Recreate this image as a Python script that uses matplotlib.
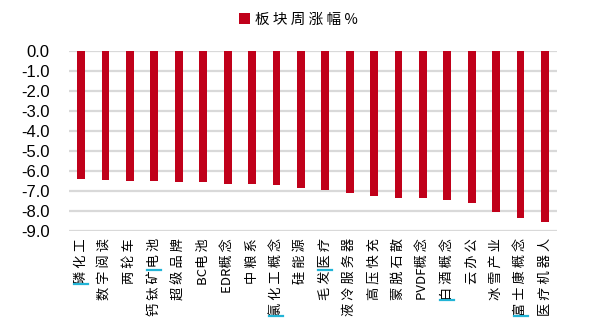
import numpy as np
import matplotlib.pyplot as plt
from matplotlib.font_manager import FontProperties
from matplotlib.lines import Line2D

plt.rcParams['font.family'] = ['Liberation Sans', 'Noto Sans CJK SC', 'DejaVu Sans']

# sector names and weekly change (%)
sectors = ['磷化工', '数字阅读', '两轮车', '钙钛矿电池', '超级品牌', 'BC电池',
           'EDR概念', '中粮系', '氯化工概念', '硅能源', '毛发医疗', '液冷服务器',
           '高压快充', '蒙脱石散', 'PVDF概念', '白酒概念', '云办公', '冰雪产业',
           '富士康概念', '医疗机器人']
weekly_change = [-6.42, -6.47, -6.48, -6.52, -6.55, -6.55, -6.66, -6.66, -6.69, -6.83,
                 -6.96, -7.08, -7.23, -7.34, -7.34, -7.43, -7.58, -8.03, -8.33, -8.55]
yticks = np.arange(0, -9.5, -1.0)
# cyan edit marks inside some labels: sector index -> characters before the mark
marks = {0: 0, 3: 3, 8: 0, 10: 2, 15: 0, 18: 0}


def spaced(s):
    # a space between neighbouring CJK characters
    out = s[0]
    for a, b in zip(s, s[1:]):
        if ord(a) > 0x2e80 and ord(b) > 0x2e80:
            out += ' '
        out += b
    return out


cjk = ['Noto Sans CJK SC', 'DejaVu Sans']
label_font = FontProperties(family=cjk, size=9.5)

fig = plt.figure(figsize=(5.89, 3.29), dpi=100)
ax = fig.add_axes([0.117, 0.298, 0.829, 0.547])

x = np.arange(len(sectors))
ax.bar(x, weekly_change, width=0.32, color='#C0001A',
       label=spaced('板块周涨幅') + ' %', zorder=3)

ax.set_xlim(-0.5, len(sectors) - 0.5)
ax.set_ylim(-9, 0)
ax.set_yticks(yticks)
ax.set_yticklabels([f'{v:.1f}' for v in yticks], fontsize=12)
ax.set_xticks(x)
ax.set_xticklabels([spaced(s) for s in sectors], rotation=90, fontproperties=label_font)
ax.tick_params(axis='both', length=0)
ax.tick_params(axis='x', pad=5)
ax.tick_params(axis='y', pad=14)

ax.grid(axis='y', color='#d9d9d9', linewidth=1.6, zorder=0)
for s in ax.spines.values():
    s.set_visible(False)

fig.legend(loc='center left', bbox_to_anchor=(0.383, 0.94), frameon=False,
           handlelength=0.75, handleheight=0.75, handletextpad=0.4,
           prop={'family': cjk, 'size': 10.5})

# short cyan strokes placed along the rotated labels
fig.canvas.draw()
renderer = fig.canvas.get_renderer()
W, H = fig.bbox.width, fig.bbox.height
for i, n in marks.items():
    bb = ax.get_xticklabels()[i].get_window_extent(renderer)
    prefix = spaced(sectors[i][:n]) if n else ''
    off = renderer.get_text_width_height_descent(prefix, label_font, ismath=False)[0] if prefix else 0
    yp = bb.y0 + off
    xc = ax.transData.transform((i, 0))[0]
    fig.add_artist(Line2D([(xc - 7) / W, (xc + 7) / W], [yp / H, yp / H],
                          color='#22B4D6', linewidth=1.6, transform=fig.transFigure))

fig.savefig('out.png', dpi=100)
